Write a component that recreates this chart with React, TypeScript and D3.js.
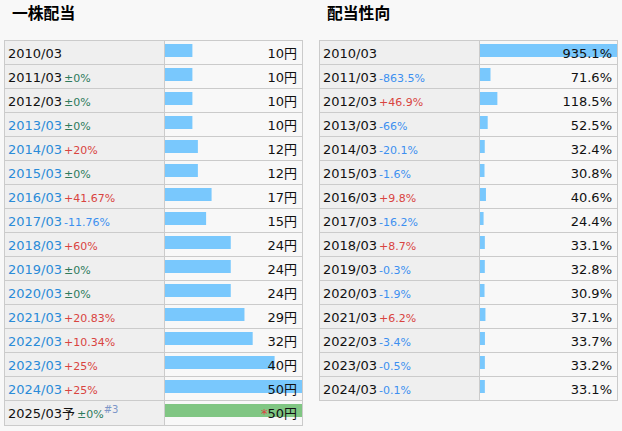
import React from 'react';
import * as d3 from 'd3';

// 一株配当
const divYears = ['2010/03', '2011/03', '2012/03', '2013/03', '2014/03', '2015/03', '2016/03', '2017/03',
  '2018/03', '2019/03', '2020/03', '2021/03', '2022/03', '2023/03', '2024/03', '2025/03予'];
const divValues = [10, 10, 10, 10, 12, 12, 17, 15, 24, 24, 24, 29, 32, 40, 50, 50];
const divChanges = ['', '±0%', '±0%', '±0%', '+20%', '±0%', '+41.67%', '-11.76%', '+60%', '±0%', '±0%',
  '+20.83%', '+10.34%', '+25%', '+25%', '±0%'];
const divLinked = [false, false, false, true, true, true, true, true, true, true, true, true, true, true, true, false];

// 配当性向
const payoutYears = ['2010/03', '2011/03', '2012/03', '2013/03', '2014/03', '2015/03', '2016/03', '2017/03',
  '2018/03', '2019/03', '2020/03', '2021/03', '2022/03', '2023/03', '2024/03'];
const payoutValues = [935.1, 71.6, 118.5, 52.5, 32.4, 30.8, 40.6, 24.4, 33.1, 32.8, 30.9, 37.1, 33.7, 33.2, 33.1];
const payoutChanges = ['', '-863.5%', '+46.9%', '-66%', '-20.1%', '-1.6%', '+9.8%', '-16.2%', '+8.7%', '-0.3%',
  '-1.9%', '+6.2%', '-3.4%', '-0.5%', '-0.1%'];

const FONT = '"DejaVu Sans", "Noto Sans CJK JP", sans-serif';
const BORDER = '#cbcbcb';
const BAR = '#79c8fd';
const GREEN = '#80c683';

function changeColor(c: string) {
  if (c.startsWith('+')) return '#d9443f';
  if (c.startsWith('-')) return '#3d8ff0';
  return '#2d7a5c';
}

interface TableProps {
  x0: number;
  divider: number;
  x1: number;
  labels: string[];
  values: number[];
  changes: string[];
  linked?: boolean[];
  format: (v: number) => string;
  forecastLast?: boolean;
}

function Table({ x0, divider, x1, labels, values, changes, linked, format, forecastLast }: TableProps) {
  const rowH = 24;
  const top = 40;
  const y = d3.scaleBand<number>()
    .domain(d3.range(labels.length))
    .range([top, top + rowH * labels.length]);
  const x = d3.scaleLinear()
    .domain([0, d3.max(values) as number])
    .range([divider + 0.5, x1]);
  const bottom = top + rowH * labels.length + (forecastLast ? 1 : 0);

  return (
    <g>
      <rect x={x0} y={top} width={divider - x0} height={bottom - top} fill="#efefef" />
      {labels.map((lab, i) => {
        const ry = y(i) as number;
        const last = forecastLast && i === labels.length - 1;
        return (
          <g key={i}>
            <rect x={divider + 0.5} y={ry + 4} width={x(values[i]) - x(0)} height={13} fill={last ? GREEN : BAR} />
            <text x={x0 + 4} y={ry + 17.5} fontSize={13} fontFamily={FONT}
              fill={linked && linked[i] ? '#2a8bd8' : '#111'}>
              {lab}
              {changes[i] && (
                <tspan dx={2} fontSize={11} fill={changeColor(changes[i])}>{changes[i]}</tspan>
              )}
              {last && <tspan fontSize={10} dy={-5} fill="#7d96c8">#3</tspan>}
            </text>
            <text x={x1 - 5} y={ry + 17.5} fontSize={13} fontFamily={FONT} textAnchor="end" fill="#111">
              {last && <tspan fill="#d9443f">*</tspan>}
              {format(values[i])}
            </text>
            {i > 0 && <line x1={x0} x2={x1} y1={ry + 0.5} y2={ry + 0.5} stroke={BORDER} />}
          </g>
        );
      })}
      <line x1={divider} x2={divider} y1={top} y2={bottom} stroke={BORDER} />
      <rect x={x0 + 0.5} y={top + 0.5} width={x1 - x0} height={bottom - top} fill="none" stroke={BORDER} />
    </g>
  );
}

export default function App() {
  return (
    <div style={{ position: 'absolute', left: 0, top: 0 }}>
      <svg width={622} height={431} style={{ display: 'block', background: '#f8f8f8' }}>
        <text x={12} y={18.5} fontSize={15.8} fontWeight="bold" fontFamily={'"Noto Sans CJK JP", sans-serif'} fill="#000">一株配当</text>
        <text x={327} y={18.5} fontSize={15.8} fontWeight="bold" fontFamily={'"Noto Sans CJK JP", sans-serif'} fill="#000">配当性向</text>
        <Table x0={4} divider={164.5} x1={302} labels={divYears} values={divValues} changes={divChanges}
          linked={divLinked} format={v => `${v}円`} forecastLast />
        <Table x0={319} divider={479.5} x1={617} labels={payoutYears} values={payoutValues} changes={payoutChanges}
          format={v => `${v.toFixed(1)}%`} />
      </svg>
    </div>
  );
}
